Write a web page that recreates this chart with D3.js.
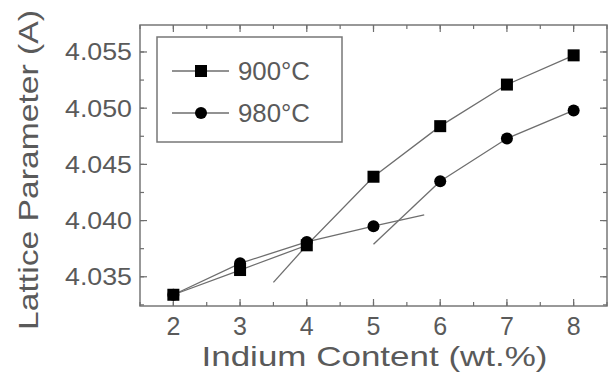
<!DOCTYPE html>
<html>
<head>
<meta charset="utf-8">
<script src="https://cdn.jsdelivr.net/npm/d3@7"></script>
<style>
  body { margin: 0; background: #fff; }
  text { font-family: "Liberation Sans", Arial, sans-serif; fill: #5a5a5a; }
</style>
</head>
<body>
<svg id="chart" width="613" height="375"></svg>
<script>
// data
const indium = [2, 3, 4, 5, 6, 7, 8];
const lp900 = [4.0334, 4.0356, 4.0378, 4.0439, 4.0484, 4.0521, 4.0547];
const lp980 = [4.0334, 4.0362, 4.0381, 4.0395, 4.0435, 4.0473, 4.0498];
const xTicks = [2, 3, 4, 5, 6, 7, 8];
const yTicks = [4.035, 4.040, 4.045, 4.050, 4.055];
// guide lines drawn on the plot: [x, y] pairs
const fit900 = [[3.5, 4.0345], [4, 4.0378]];
const fit980a = [[5, 4.0395], [5.76, 4.0405]];
const fit980b = [[5, 4.0379], [6, 4.0435]];

const svg = d3.select("#chart");
const m = {left: 140, top: 25, right: 607, bottom: 306};

const x = d3.scaleLinear().domain([1.5, 8.5]).range([m.left, m.right]);
const y = d3.scaleLinear().domain([4.0324, 4.0574]).range([m.bottom, m.top]);

const grey = "#6e6e6e";

// frame
svg.append("rect")
    .attr("x", m.left).attr("y", m.top)
    .attr("width", m.right - m.left).attr("height", m.bottom - m.top)
    .attr("fill", "none").attr("stroke", "#777").attr("stroke-width", 1.5);

// ticks on all sides, pointing in
const xMinor = d3.range(1.5, 8.51, 0.5);
const yMinor = d3.range(4.0325, 4.0574, 0.0025);
function ticks(vals, len, cls) {
    svg.selectAll("line.xb" + cls).data(vals).enter().append("line")
        .attr("x1", d => x(d)).attr("x2", d => x(d))
        .attr("y1", m.bottom).attr("y2", m.bottom - len)
        .attr("stroke", grey).attr("stroke-width", 1.2);
    svg.selectAll("line.xt" + cls).data(vals).enter().append("line")
        .attr("x1", d => x(d)).attr("x2", d => x(d))
        .attr("y1", m.top).attr("y2", m.top + len)
        .attr("stroke", grey).attr("stroke-width", 1.2);
}
function yticks(vals, len, cls) {
    svg.selectAll("line.yl" + cls).data(vals).enter().append("line")
        .attr("y1", d => y(d)).attr("y2", d => y(d))
        .attr("x1", m.left).attr("x2", m.left + len)
        .attr("stroke", grey).attr("stroke-width", 1.2);
    svg.selectAll("line.yr" + cls).data(vals).enter().append("line")
        .attr("y1", d => y(d)).attr("y2", d => y(d))
        .attr("x1", m.right).attr("x2", m.right - len)
        .attr("stroke", grey).attr("stroke-width", 1.2);
}
ticks(xMinor, 4, "min");
ticks(xTicks, 7, "maj");
yticks(yMinor, 4, "min");
yticks(yTicks, 7, "maj");

// tick labels
svg.selectAll("text.xl").data(xTicks).enter().append("text")
    .attr("x", d => x(d)).attr("y", 335)
    .attr("text-anchor", "middle").attr("font-size", 25)
    .text(d => d);
svg.selectAll("text.yl").data(yTicks).enter().append("text")
    .attr("x", 132).attr("y", d => y(d) + 8.5)
    .attr("text-anchor", "end").attr("font-size", 24)
    .attr("textLength", 67).attr("lengthAdjust", "spacingAndGlyphs")
    .text(d => d3.format(".3f")(d));

// axis titles
svg.append("text")
    .attr("x", (m.left + m.right) / 2 + 1).attr("y", 366)
    .attr("text-anchor", "middle").attr("font-size", 28)
    .attr("textLength", 346).attr("lengthAdjust", "spacingAndGlyphs")
    .text("Indium Content (wt.%)");
svg.append("text")
    .attr("transform", "translate(38,170) rotate(-90)")
    .attr("text-anchor", "middle").attr("font-size", 28)
    .attr("textLength", 320).attr("lengthAdjust", "spacingAndGlyphs")
    .text("Lattice Parameter (A)");

const line = d3.line().x(d => x(d[0])).y(d => y(d[1]));
const s900 = indium.map((v, i) => [v, lp900[i]]);
const s980 = indium.map((v, i) => [v, lp980[i]]);

// lines
const lines = [s900, s980.slice(0, 4), s980.slice(4), fit900, fit980a, fit980b];
svg.selectAll("path.ln").data(lines).enter().append("path")
    .attr("d", line).attr("fill", "none")
    .attr("stroke", grey).attr("stroke-width", 1.3);

// markers
svg.selectAll("rect.sq").data(s900).enter().append("rect")
    .attr("x", d => x(d[0]) - 6).attr("y", d => y(d[1]) - 6)
    .attr("width", 12).attr("height", 12).attr("fill", "#000");
svg.selectAll("circle.ci").data(s980).enter().append("circle")
    .attr("cx", d => x(d[0])).attr("cy", d => y(d[1]))
    .attr("r", 6).attr("fill", "#000");

// legend
const lg = svg.append("g");
lg.append("rect").attr("x", 157).attr("y", 37).attr("width", 185).attr("height", 105)
    .attr("fill", "#fff").attr("stroke", "#777").attr("stroke-width", 1.5);
const legendItems = [{label: "900°C", shape: "sq", yy: 71}, {label: "980°C", shape: "ci", yy: 113}];
legendItems.forEach(it => {
    lg.append("line").attr("x1", 172).attr("x2", 229).attr("y1", it.yy).attr("y2", it.yy)
        .attr("stroke", grey).attr("stroke-width", 1.3);
    if (it.shape === "sq") {
        lg.append("rect").attr("x", 195).attr("y", it.yy - 6).attr("width", 12).attr("height", 12).attr("fill", "#000");
    } else {
        lg.append("circle").attr("cx", 201).attr("cy", it.yy).attr("r", 6).attr("fill", "#000");
    }
    lg.append("text").attr("x", 238).attr("y", it.yy + 9).attr("font-size", 25)
        .attr("textLength", 72).attr("lengthAdjust", "spacingAndGlyphs")
        .text(it.label);
});
</script>
</body>
</html>
